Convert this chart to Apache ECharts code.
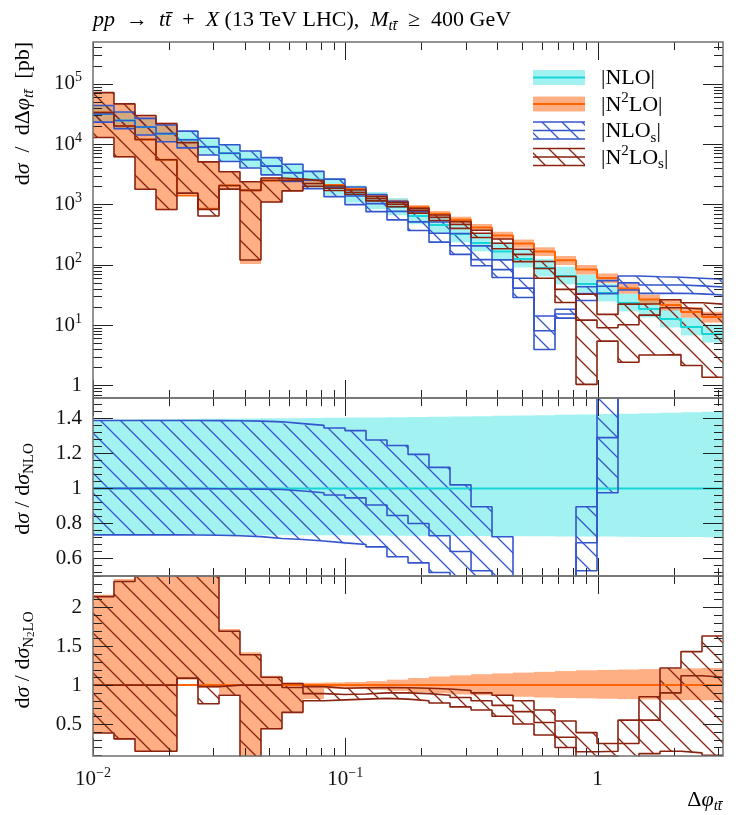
<!DOCTYPE html>
<html><head><meta charset="utf-8"><title>dphi ttbar</title>
<script src="https://cdn.jsdelivr.net/npm/echarts@6.0.0/dist/echarts.min.js"></script>
<style>html,body{margin:0;padding:0;background:#fff}#chart{width:747px;height:815px}</style>
</head><body><div id="chart"></div>
<script>
// ---------------- data ----------------
const binEdges = [0.01, 0.01211, 0.01467, 0.01777, 0.02152, 0.02607, 0.03158, 0.03825, 0.04633, 0.05612, 0.06798, 0.08234, 0.09974, 0.1208, 0.1463, 0.1773, 0.2147, 0.2601, 0.3151, 0.3816, 0.4622, 0.5598, 0.6781, 0.8214, 0.9948, 1.205, 1.459, 1.768, 2.141, 2.594, 3.1416];

// NLO central value [pb] and scale band (ratio to NLO central)
const nloCentral = [31500, 24600, 19200, 14900, 11800, 9000, 7050, 5550, 4330, 3380, 2590, 1950, 1460, 1140, 906, 642, 455, 323, 229, 166, 124, 88, 65, 48, 34, 23.2, 18.4, 12.6, 9.3, 7.1];
const nloLow  = [0.736,0.736,0.735,0.735,0.735,0.734,0.734,0.734,0.733,0.733,0.732,0.732,0.731,0.731,0.730,0.730,0.729,0.729,0.728,0.728,0.727,0.727,0.726,0.725,0.725,0.724,0.723,0.723,0.722,0.721];
const nloHigh = [1.392,1.393,1.394,1.395,1.396,1.397,1.398,1.399,1.400,1.401,1.402,1.403,1.404,1.405,1.406,1.408,1.409,1.411,1.412,1.414,1.416,1.418,1.420,1.422,1.424,1.426,1.429,1.432,1.435,1.438];

// N2LO central value [pb] and scale band (ratio to N2LO central)
const n2loCentral = [33400, 19900, 11900, 5500, 1410, 845, 2060, 1710, 2490, 2580, 2490, 2100, 1800, 1380, 1120, 895, 701, 556, 415, 306, 225, 166, 118, 83, 60, 40.3, 26.5, 21.5, 16.4, 13.6];
const n2loLow  = [0.38, 0.30, 0.145, 0.145, 1.07, 0.97, 0.88, 0.06, 0.43, 0.64, 0.82, 0.955, 0.95, 0.94, 0.925, 0.91, 0.895, 0.88, 0.87, 0.86, 0.85, 0.84, 0.835, 0.83, 0.825, 0.82, 0.815, 0.81, 0.808, 0.805];
const n2loHigh = [2.16, 2.36, 2.55, 4.1, 7.8, 6.2, 1.72, 1.42, 1.12, 1.03, 1.03, 1.034, 1.04, 1.05, 1.07, 1.09, 1.11, 1.125, 1.14, 1.15, 1.16, 1.17, 1.18, 1.19, 1.195, 1.2, 1.205, 1.21, 1.215, 1.22];

// NLO_s (ratio to NLO central)
const nlosMid  = [1.0,1.0,1.0,0.999,0.999,0.998,0.997,0.996,0.994,0.985,0.975,0.962,0.946,0.905,0.845,0.80,0.73,0.64,0.53,0.50,0.33,0.091,0.234,0.69,1.29,2.15,2.5,3.66,4.79,6.02];
const nlosHigh = [1.388,1.388,1.388,1.388,1.388,1.387,1.386,1.384,1.38,1.37,1.36,1.345,1.33,1.276,1.245,1.194,1.12,1.02,0.895,0.724,0.48,0.16,0.28,0.895,1.6,2.8,3.43,4.92,6.42,8.07];
const nlosLow  = [0.735,0.735,0.735,0.735,0.734,0.733,0.73,0.725,0.714,0.708,0.70,0.689,0.68,0.666,0.61,0.575,0.52,0.46,0.42,0.37,0.23,0.0445,0.20,0.53,0.975,1.64,1.82,2.67,3.53,4.43];

// N2LO_s (ratio to N2LO central)
const n2losMid  = [1.0, 1.0, 1.0, 1.0, 1.087, 0.98, 1.0, 1.0, 1.0, 0.97, 0.89, 0.88, 0.885, 0.90, 0.90, 0.89, 0.87, 0.84, 0.80, 0.74, 0.66, 0.52, 0.33, 0.145, 0.15, 0.25, 0.55, 0.90, 1.12, 1.10];
const n2losLow  = [0.386, 0.31, 0.15, 0.15, 1.087, 0.76, 0.87, 0.07, 0.44, 0.65, 0.80, 0.81, 0.82, 0.83, 0.82, 0.80, 0.77, 0.72, 0.68, 0.60, 0.50, 0.36, 0.20, 0.0125, 0.09, 0.06, 0.12, 0.15, 0.13, 0.10];
const n2losHigh = [2.135, 2.33, 2.5, 4.0, 7.5, 6.0, 1.69, 1.39, 1.10, 1.02, 0.98, 0.96, 0.965, 0.97, 0.965, 0.96, 0.95, 0.93, 0.90, 0.87, 0.80, 0.68, 0.54, 0.39, 0.25, 0.55, 0.85, 1.22, 1.43, 1.63];

// tick labels
const xTickValues = [0.01, 0.1, 1];
const mainYTickValues = [1, 10, 100, 1000, 10000, 100000];
const midYTickValues = [0.6, 0.8, 1, 1.2, 1.4];
const botYTickValues = [0.5, 1, 1.5, 2];

// ---------------- helpers ----------------
const FONT = 'Liberation Serif';
const lx = v => Math.log10(v);
const X_MIN = lx(binEdges[0]), X_MAX = lx(binEdges[binEdges.length - 1]);
const C_NLO_BAND = 'rgba(0,220,220,0.36)', C_NLO_LINE = '#19d6d6';
const C_N2LO_BAND = 'rgba(255,110,30,0.55)', C_N2LO_LINE = '#ff6400';
const C_NLOS = '#3355cc', C_N2LOS = '#8a2210';

function hatch(color) {
  const s = 20, c = document.createElement('canvas');
  c.width = s; c.height = s;
  const g = c.getContext('2d');
  g.strokeStyle = color; g.lineWidth = 1.3;
  g.beginPath();
  g.moveTo(-3, -3); g.lineTo(s + 3, s + 3);
  g.moveTo(-3, s - 3); g.lineTo(3, s + 3);
  g.moveTo(s - 3, -3); g.lineTo(s + 3, 3);
  g.stroke();
  return { image: c, repeat: 'repeat' };
}
const HATCH_NLOS = hatch(C_NLOS), HATCH_N2LOS = hatch(C_N2LOS);

function rectSeries(gi, lows, highs, fill, z) {
  return {
    type: 'custom', xAxisIndex: gi, yAxisIndex: gi, z, silent: true, animation: false,
    data: lows.map((l, i) => [lx(binEdges[i]), lx(binEdges[i + 1]), l, highs[i]]),
    renderItem(params, api) {
      const a = api.coord([api.value(0), api.value(3)]);
      const b = api.coord([api.value(1), api.value(2)]);
      const cs = params.coordSys;
      const r = echarts.graphic.clipRectByRect(
        { x: a[0], y: a[1], width: b[0] - a[0], height: b[1] - a[1] },
        { x: cs.x, y: cs.y, width: cs.width, height: cs.height });
      if (!r) return null;
      return { type: 'rect', shape: r, style: { fill } };
    }
  };
}
function stepSeries(gi, vals, color, width, z) {
  const d = [];
  vals.forEach((v, i) => { d.push([lx(binEdges[i]), v]); d.push([lx(binEdges[i + 1]), v]); });
  return { type: 'line', xAxisIndex: gi, yAxisIndex: gi, data: d, symbol: 'none', silent: true,
    animation: false, clip: true, z, lineStyle: { color, width } };
}
const mul = (a, b) => a.map((v, i) => v * b[i]);
const logs = a => a.map(lx);
const ones = nloCentral.map((v, i) => v / nloCentral[i]);
const ones2 = n2loCentral.map((v, i) => v / n2loCentral[i]);

// ticks & frame
function frameSeries(gi, yMaj, yMin, xMaj, xMin) {
  return {
    type: 'custom', xAxisIndex: gi, yAxisIndex: gi, silent: true, z: 30, animation: false, clip: false,
    data: [[X_MIN, yMaj[0]]],
    renderItem(params, api) {
      const cs = params.coordSys, ch = [];
      const L = (x1, y1, x2, y2) => ch.push({ type: 'line', shape: { x1, y1, x2, y2 }, style: { stroke: '#222', lineWidth: 1 } });
      const y0 = yMaj[0];
      const xt = (v, len) => { const px = Math.round(api.coord([v, y0])[0]) + 0.5;
        L(px, cs.y + cs.height, px, cs.y + cs.height - len); L(px, cs.y, px, cs.y + len); };
      const yt = (v, len) => { const py = Math.round(api.coord([X_MIN, v])[1]) + 0.5;
        L(cs.x, py, cs.x + len, py); L(cs.x + cs.width, py, cs.x + cs.width - len, py); };
      xMaj.forEach(v => xt(v, 18)); xMin.forEach(v => xt(v, 8));
      yMaj.forEach(v => yt(v, 20)); yMin.forEach(v => yt(v, 9));
      ch.push({ type: 'rect', shape: { x: cs.x, y: cs.y, width: cs.width, height: cs.height },
        style: { fill: 'none', stroke: '#707070', lineWidth: 1.5 } });
      return { type: 'group', children: ch };
    }
  };
}
const xMaj = xTickValues.map(lx);
const xMin = [];
[-2, -1, 0].forEach(n => { for (let k = 2; k <= 9; k++) { const v = Math.log10(k) + n; if (v <= X_MAX) xMin.push(v); } });

const MAIN_MIN = -0.2106, MAIN_MAX = 5.693;
const mainMaj = mainYTickValues.map(lx);
const mainMin = [];
for (let n = -1; n <= 5; n++) for (let k = 2; k <= 9; k++) { const v = Math.log10(k) + n; if (v >= MAIN_MIN && v <= MAIN_MAX) mainMin.push(v); }
const MID_MIN = 0.5, MID_MAX = 1.516;
const midMin = [];
for (let v = 0.52; v < MID_MAX; v += 0.04) { const r = Math.round(v * 100) / 100; if (Math.abs(r * 5 - Math.round(r * 5)) > 1e-6) midMin.push(r); }
const BOT_MIN = 0.09, BOT_MAX = 2.40;
const botMin = [];
for (let v = 0.1; v <= 2.4001; v += 0.1) { const r = Math.round(v * 10) / 10; if (Math.abs(r * 2 - Math.round(r * 2)) > 1e-6) botMin.push(r); }

// ---------------- series ----------------
const series = [
  // main panel
  rectSeries(0, logs(mul(nloCentral, nloLow)), logs(mul(nloCentral, nloHigh)), C_NLO_BAND, 2),
  rectSeries(0, logs(mul(n2loCentral, n2loLow)), logs(mul(n2loCentral, n2loHigh)), C_N2LO_BAND, 2),
  rectSeries(0, logs(mul(nloCentral, nlosLow)), logs(mul(nloCentral, nlosHigh)), HATCH_NLOS, 3),
  rectSeries(0, logs(mul(n2loCentral, n2losLow)), logs(mul(n2loCentral, n2losHigh)), HATCH_N2LOS, 3),
  stepSeries(0, logs(nloCentral), C_NLO_LINE, 2, 4),
  stepSeries(0, logs(n2loCentral), C_N2LO_LINE, 2, 4),
  stepSeries(0, logs(mul(nloCentral, nlosLow)), C_NLOS, 1.6, 5),
  stepSeries(0, logs(mul(nloCentral, nlosMid)), C_NLOS, 1.6, 5),
  stepSeries(0, logs(mul(nloCentral, nlosHigh)), C_NLOS, 1.6, 5),
  stepSeries(0, logs(mul(n2loCentral, n2losLow)), C_N2LOS, 1.6, 5),
  stepSeries(0, logs(mul(n2loCentral, n2losMid)), C_N2LOS, 1.6, 5),
  stepSeries(0, logs(mul(n2loCentral, n2losHigh)), C_N2LOS, 1.6, 5),
  // ratio to NLO
  rectSeries(1, nloLow, nloHigh, C_NLO_BAND, 2),
  rectSeries(1, nlosLow, nlosHigh, HATCH_NLOS, 3),
  stepSeries(1, ones, C_NLO_LINE, 2, 4),
  stepSeries(1, nlosLow, C_NLOS, 1.6, 5),
  stepSeries(1, nlosMid, C_NLOS, 1.6, 5),
  stepSeries(1, nlosHigh, C_NLOS, 1.6, 5),
  // ratio to N2LO
  rectSeries(2, n2loLow, n2loHigh, C_N2LO_BAND, 2),
  rectSeries(2, n2losLow, n2losHigh, HATCH_N2LOS, 3),
  stepSeries(2, ones2, C_N2LO_LINE, 2, 4),
  stepSeries(2, n2losLow, C_N2LOS, 1.6, 5),
  stepSeries(2, n2losMid, C_N2LOS, 1.6, 5),
  stepSeries(2, n2losHigh, C_N2LOS, 1.6, 5),
  frameSeries(0, mainMaj, mainMin, xMaj, xMin),
  frameSeries(1, midYTickValues, midMin, xMaj, xMin),
  frameSeries(2, botYTickValues, botMin, xMaj, xMin)
];

const labRich = {
  s: { fontFamily: FONT, fontSize: 14, lineHeight: 12, verticalAlign: 'top', color: '#111' },
  b: { fontFamily: FONT, fontSize: 21, lineHeight: 26, color: '#111' }
};
function yAxis(gi, min, max, labels, fmt, margin) {
  return { type: 'value', gridIndex: gi, min, max, axisLine: { show: false }, axisTick: { show: false },
    splitLine: { show: false },
    axisLabel: { customValues: labels, margin, fontFamily: FONT, fontSize: 21, color: '#111',
      formatter: fmt, rich: labRich } };
}
function xAxis(gi, show) {
  return { type: 'value', gridIndex: gi, min: X_MIN, max: X_MAX, axisLine: { show: false }, axisTick: { show: false },
    splitLine: { show: false },
    axisLabel: { show, customValues: xMaj, margin: 10, fontFamily: FONT, fontSize: 21, color: '#111',
      formatter: v => { const n = Math.round(v); return n === 0 ? '{b|1}' : '{b|10}{s|\u2212' + (-n) + '}'; },
      rich: labRich } };
}

function richSet(size) {
  const base = { fontFamily: FONT, fontSize: size, lineHeight: size + 6, color: '#111' };
  const small = Math.round(size * 0.68);
  return {
    n: base,
    i: Object.assign({}, base, { fontStyle: 'italic' }),
    sub: { fontFamily: FONT, fontSize: small, lineHeight: small, verticalAlign: 'bottom', color: '#111' },
    subI: { fontFamily: FONT, fontSize: small, lineHeight: small, verticalAlign: 'bottom', color: '#111', fontStyle: 'italic' },
    sup: { fontFamily: FONT, fontSize: small, lineHeight: small, verticalAlign: 'top', color: '#111' },
    ss: { fontFamily: FONT, fontSize: Math.round(small * 0.75), lineHeight: size + 2, verticalAlign: 'bottom', color: '#111' }
  };
}
const richTitle = richSet(22), richLegend = richSet(22), richAxis = richSet(22);

const legendRows = [
  { label: '{n||NLO|}', kind: 'band', fill: C_NLO_BAND, line: C_NLO_LINE },
  { label: '{n||N}{sup|2}{n|LO|}', kind: 'band', fill: C_N2LO_BAND, line: C_N2LO_LINE },
  { label: '{n||NLO}{sub|s}{n||}', kind: 'hatch', fill: HATCH_NLOS, line: C_NLOS },
  { label: '{n||N}{sup|2}{n|LO}{sub|s}{n||}', kind: 'hatch', fill: HATCH_N2LOS, line: C_N2LOS }
];
const graphics = [];
legendRows.forEach((r, i) => {
  const yc = 77.5 + i * 26.5, x0 = 533, w = 52;
  if (r.kind === 'band') {
    graphics.push({ type: 'rect', shape: { x: x0, y: yc - 7.5, width: w, height: 15 }, style: { fill: r.fill } });
    graphics.push({ type: 'line', shape: { x1: x0, y1: yc, x2: x0 + w, y2: yc }, style: { stroke: r.line, lineWidth: 2 } });
  } else {
    graphics.push({ type: 'rect', shape: { x: x0, y: yc - 8.5, width: w, height: 17 }, style: { fill: r.fill } });
    [-8.5, 0, 8.5].forEach(d => graphics.push({ type: 'line', shape: { x1: x0, y1: yc + d, x2: x0 + w, y2: yc + d }, style: { stroke: r.line, lineWidth: 1.6 } }));
  }
  graphics.push({ type: 'text', x: 601, y: yc + 1, style: { text: r.label, rich: richLegend, verticalAlign: 'middle', align: 'left' } });
});
// title
graphics.push({ type: 'text', x: 93, y: 20, style: {
  text: '{i|pp}{n|  \u2192  }{i|t}{i|t\u0304}{n|  +  }{i|X}{n| (13 TeV LHC),  }{i|M}{subI|tt\u0304}{n|  \u2265  400 GeV}',
  rich: richTitle, verticalAlign: 'middle', align: 'left' } });
// y titles
graphics.push({ type: 'text', x: 23, y: 42, rotation: Math.PI / 2, style: {
  text: '{n|d}{i|\u03c3}{n|  /  d\u0394}{i|\u03c6}{subI|tt\u0304}{n|  [pb]}', rich: richAxis, align: 'right', verticalAlign: 'middle' } });
graphics.push({ type: 'text', x: 23, y: 489, rotation: Math.PI / 2, style: {
  text: '{n|d}{i|\u03c3}{n| / d}{i|\u03c3}{sub|NLO}', rich: richAxis, align: 'center', verticalAlign: 'middle' } });
graphics.push({ type: 'text', x: 23, y: 660, rotation: Math.PI / 2, style: {
  text: '{n|d}{i|\u03c3}{n| / d}{i|\u03c3}{sub|N}{ss|2}{sub|LO}', rich: richAxis, align: 'center', verticalAlign: 'middle' } });
// x title
graphics.push({ type: 'text', x: 722, y: 800, style: {
  text: '{n|\u0394}{i|\u03c6}{subI|tt\u0304}', rich: richAxis, align: 'right', verticalAlign: 'middle' } });

const chart = echarts.init(document.getElementById('chart'), null, { renderer: 'canvas' });
chart.setOption({
  animation: false,
  backgroundColor: '#fff',
  grid: [
    { left: 93, top: 42, width: 630, height: 356 },
    { left: 93, top: 398, width: 630, height: 178 },
    { left: 93, top: 576, width: 630, height: 180 }
  ],
  xAxis: [xAxis(0, false), xAxis(1, false), xAxis(2, true)],
  yAxis: [
    yAxis(0, MAIN_MIN, MAIN_MAX, mainMaj, v => { const n = Math.round(v); return n === 0 ? '{b|1}' : '{b|10}{s|' + n + '}'; }, 11),
    yAxis(1, MID_MIN, MID_MAX, midYTickValues, v => '{b|' + (Math.round(v * 10) / 10) + '}', 11),
    yAxis(2, BOT_MIN, BOT_MAX, botYTickValues, v => '{b|' + (Math.round(v * 10) / 10) + '}', 11)
  ],
  series,
  graphic: graphics
});
</script></body></html>
